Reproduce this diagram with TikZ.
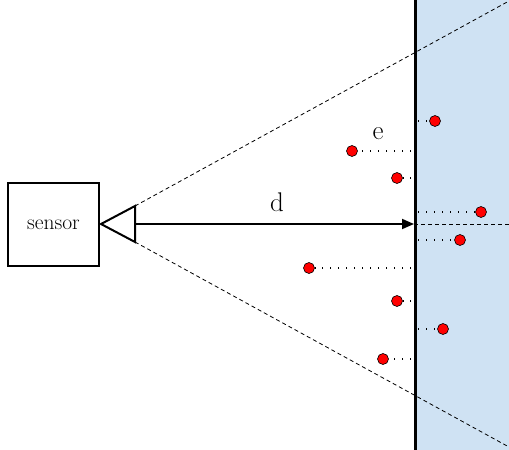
\documentclass[tikz,border=0pt]{standalone}
\usepackage{fontspec}
\usetikzlibrary{arrows.meta}
\definecolor{wallblue}{HTML}{CFE2F3}
\begin{document}
\begin{tikzpicture}[x=1pt,y=-1pt,
  dot/.style={circle,fill=red,draw=black,line width=0.6pt,inner sep=0pt,minimum size=11pt},
  ray/.style={draw=black,line width=0.8pt,dash pattern=on 4pt off 3pt},
  lead/.style={draw=black,line width=1.6pt,dash pattern=on 1.4pt off 6.6pt},
  lbl/.style={inner sep=0pt,font=\fontsize{27}{30}\selectfont}]
\useasboundingbox (0,0) rectangle (509,450);
\fill[wallblue] (415,0) rectangle (509,450);
% sensor box
\node[draw=black,line width=2pt,minimum width=91pt,minimum height=83pt,inner sep=0pt,
  font=\fontsize{21.5}{24}\selectfont] (sensor) at (53.5,224.5) {sensor};
% triangle
\coordinate (tip) at (101,224);
\coordinate (ttop) at (135,206);
\coordinate (tbot) at (135,242);
\coordinate (tmid) at (135,224);
\draw[line width=2pt,line join=miter] (tip) -- (ttop) -- (tbot) -- cycle;
% wall
\coordinate (wtop) at (415,0);
\coordinate (wbot) at (415,450);
\coordinate (wmid) at (414,224);
\coordinate (rmid) at (509,224);
\coordinate (rtop) at (509,1);
\coordinate (rbot) at (509,447);
% cone rays
\draw[ray] (ttop) -- (rtop);
\draw[ray] (tbot) -- (rbot);
\draw[ray] (wmid) -- (rmid);
% arrow d
\draw[line width=1.8pt,-{Triangle[length=12pt,width=10pt]}] (tmid) -- (wmid);
\draw[line width=3pt] (wtop) -- (wbot);
\node[lbl] (d) at (277,202) {d};
\node[lbl] (e) at (378,134) {e};
% dots
\node[dot] (p1) at (435,121) {};
\node[dot] (p2) at (352,151) {};
\node[dot] (p3) at (397,178) {};
\node[dot] (p4) at (481,212) {};
\node[dot] (p5) at (460,240) {};
\node[dot] (p6) at (309,268) {};
\node[dot] (p7) at (397,301) {};
\node[dot] (p8) at (443,329) {};
\node[dot] (p9) at (383,359) {};
\coordinate (w1) at (418,121);
\coordinate (w2) at (411,151);
\coordinate (w3) at (411,178);
\coordinate (w4) at (418,212);
\coordinate (w5) at (418,240);
\coordinate (w6) at (411,268);
\coordinate (w7) at (411,301);
\coordinate (w8) at (418,329);
\coordinate (w9) at (411,359);
\foreach \i in {1,...,9} {\draw[lead] (w\i) -- (p\i);}
\end{tikzpicture}
\end{document}
